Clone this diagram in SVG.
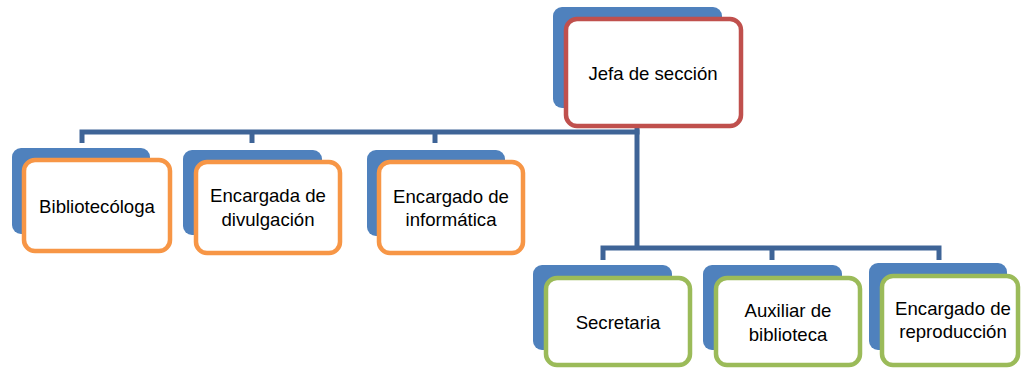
<svg xmlns="http://www.w3.org/2000/svg" width="1021" height="368" viewBox="0 0 1021 368">
<style>
.bg{fill:#4F81BD;}
.box{fill:#FFFFFF;stroke-width:4.5;}
.red{stroke:#C0504D;}
.orange{stroke:#F79646;}
.green{stroke:#9BBB59;}
.conn{fill:none;stroke:#3E6497;stroke-width:5;stroke-linejoin:miter;stroke-linecap:butt;}
text{font-family:"Liberation Sans",Arial,sans-serif;font-size:18.6px;fill:#000;text-anchor:middle;}
</style>
<rect width="1021" height="368" fill="#FFFFFF"/>
<g id="connectors">
<path class="conn" d="M637 126 V248"/>
<path class="conn" d="M82 143 V132 H639.5"/>
<path class="conn" d="M252 132 V143"/>
<path class="conn" d="M435 132 V143"/>
<path class="conn" d="M603 260 V248 H939 V260"/>
<path class="conn" d="M772 248 V260"/>
</g>
<g id="jefa">
<rect class="bg" x="553" y="7" width="169" height="101" rx="9"/>
<rect class="box red" x="566" y="19" width="175" height="107" rx="11"/>
<text x="653" y="80">Jefa de sección</text>
</g>
<g id="bibliotecologa">
<rect class="bg" x="12" y="148" width="138" height="86" rx="9"/>
<rect class="box orange" x="24" y="160" width="146" height="91" rx="11"/>
<text x="97" y="213">Bibliotecóloga</text>
</g>
<g id="divulgacion">
<rect class="bg" x="183" y="150" width="139" height="85" rx="9"/>
<rect class="box orange" x="196" y="162" width="144" height="91" rx="11"/>
<text x="268" y="202">Encargada de</text>
<text x="268" y="226">divulgación</text>
</g>
<g id="informatica">
<rect class="bg" x="367" y="150" width="138" height="86" rx="9"/>
<rect class="box orange" x="379" y="162" width="144" height="91" rx="11"/>
<text x="451" y="203">Encargado de</text>
<text x="451" y="226">informática</text>
</g>
<g id="secretaria">
<rect class="bg" x="533" y="265" width="139" height="85" rx="9"/>
<rect class="box green" x="546" y="278" width="144" height="87" rx="11"/>
<text x="618" y="329">Secretaria</text>
</g>
<g id="auxiliar">
<rect class="bg" x="703" y="265" width="139" height="85" rx="9"/>
<rect class="box green" x="716" y="278" width="144" height="87" rx="11"/>
<text x="788" y="317">Auxiliar de</text>
<text x="788" y="341">biblioteca</text>
</g>
<g id="reproduccion">
<rect class="bg" x="869" y="263" width="138" height="87" rx="9"/>
<rect class="box green" x="882" y="276" width="136" height="89" rx="11"/>
<text x="953" y="315">Encargado de</text>
<text x="953" y="338">reproducción</text>
</g>
</svg>
